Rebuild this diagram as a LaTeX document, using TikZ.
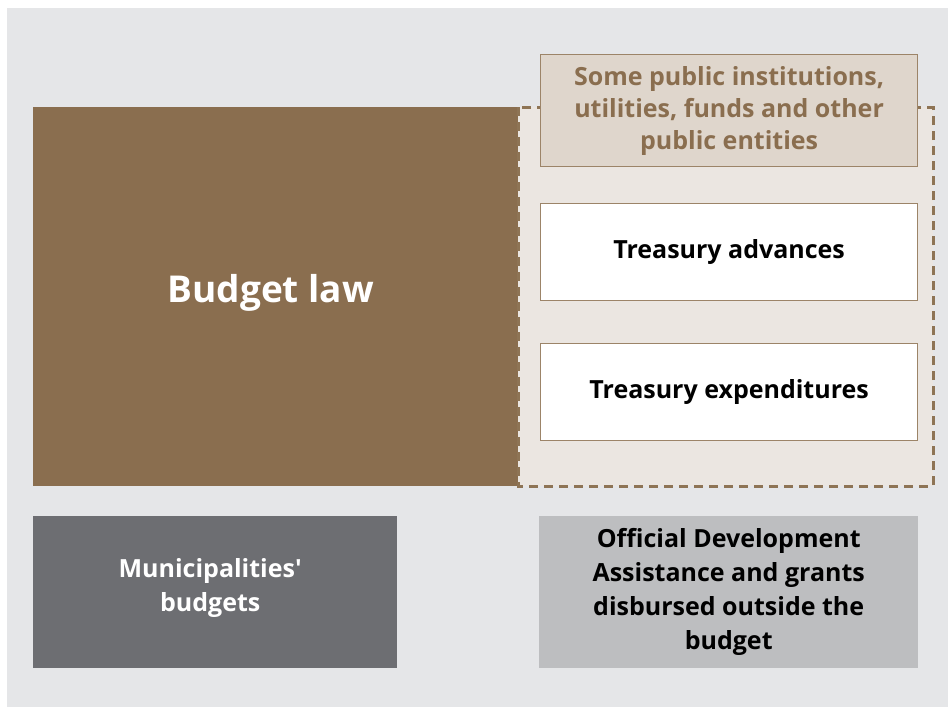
\documentclass[tikz,border=0pt]{standalone}
\usepackage{fontspec}
\setmainfont{Open Sans}
\usepackage{xcolor}
\definecolor{cBrown}{HTML}{8A6E4F}
\definecolor{cLine}{HTML}{9C8468}
\definecolor{cDash}{HTML}{8E7455}
\definecolor{cPale}{HTML}{EBE6E1}
\definecolor{cTan}{HTML}{DFD6CC}
\definecolor{cBack}{HTML}{E5E6E8}
\definecolor{cDark}{HTML}{6D6E72}
\definecolor{cLight}{HTML}{BDBEC0}
\usetikzlibrary{positioning}
\tikzset{
  node-block/.style={rectangle,inner sep=0pt,align=center,anchor=north west,
    font=\bfseries\fontsize{25}{34}\selectfont},
  node-law/.style={node-block,fill=cBrown,text=white,
    minimum width=485pt,minimum height=379pt,font=\bfseries\fontsize{37}{44}\selectfont},
  node-entity/.style={node-block,draw=cLine,line width=1.2pt,
    minimum width=377pt,minimum height=97pt},
  node-ext/.style={node-block,minimum height=152pt},
  zone-dashed/.style={draw=cDash,fill=cPale,line width=3pt,dash pattern=on 9pt off 6pt},
}

\begin{document}
\begin{tikzpicture}[x=1pt,y=-1pt]
  \useasboundingbox (0,0) rectangle (948,707);
  \fill[cBack] (7,8) rectangle (948,707);
  % budget law block and its dashed extension
  \node[node-law] (law) at (33,107) {\hspace*{-10pt}\raisebox{16pt}{Budget law}};
  \draw[zone-dashed] (518,107) rectangle (933,486);
  \node[node-entity,fill=cTan,text=cBrown,minimum height=112pt,
    font=\bfseries\fontsize{25}{32}\selectfont] (inst) at (540,54)
    {Some public institutions,\\utilities, funds and other\\public entities};
  \node[node-entity,fill=white] (adv) at (540,203) {Treasury advances};
  \node[node-entity,fill=white] (exp) at (540,343) {Treasury expenditures};
  % outside the budget law
  \node[node-ext,fill=cDark,text=white,minimum width=364pt] (muni) at (33,516)
    {\hspace*{-10pt}Municipalities\textquotesingle\\\hspace*{-10pt}budgets\\[-20pt]\mbox{}};
  \node[node-ext,fill=cLight,text=black,minimum width=379pt] (oda) at (539,516)
    {Official Development\\Assistance and grants\\disbursed outside the\\budget};
\end{tikzpicture}
\end{document}
